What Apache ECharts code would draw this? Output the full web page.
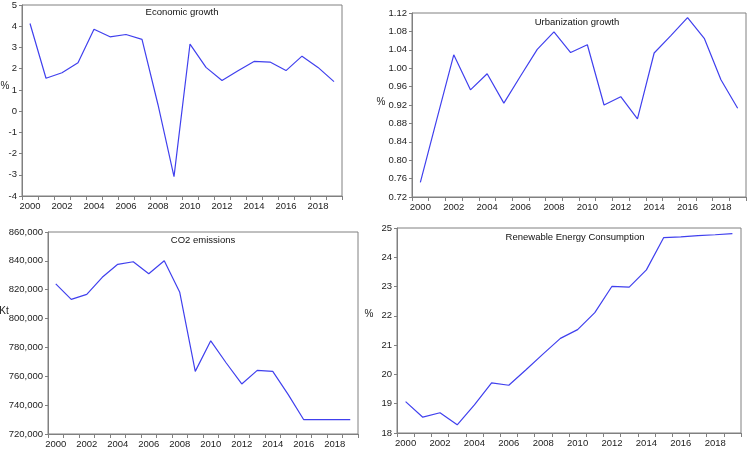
<!DOCTYPE html>
<html>
<head>
<meta charset="utf-8">
<script src="https://cdn.jsdelivr.net/npm/echarts@6/dist/echarts.min.js"></script>
<style>
html,body{margin:0;padding:0;background:#fff;}
#chart{width:748px;height:450px;}
</style>
</head>
<body>
<div id="chart"></div>
<script>
var years = ['2000','2001','2002','2003','2004','2005','2006','2007','2008','2009','2010','2011','2012','2013','2014','2015','2016','2017','2018','2019'];
var econGrowth = [4.13,1.55,1.81,2.28,3.86,3.50,3.61,3.38,0.30,-3.09,3.16,2.06,1.44,1.90,2.34,2.31,1.91,2.59,2.06,1.39];
var urbanGrowth = [0.752,0.891,1.029,0.953,0.988,0.924,0.983,1.041,1.079,1.034,1.051,0.920,0.938,0.890,1.033,1.071,1.110,1.065,0.975,0.913];
var co2Emissions = [824000,813300,816800,828600,837600,839400,831100,840100,818200,763400,784600,769200,754700,764100,763400,747300,729900,729900,729900,729900];
var renewableEnergy = [19.07,18.54,18.69,18.28,18.96,19.71,19.63,20.16,20.70,21.23,21.53,22.11,23.01,22.98,23.57,24.67,24.70,24.74,24.77,24.81];
var panelTitles = ['Economic growth','Urbanization growth','CO2 emissions','Renewable Energy Consumption'];
var yNames = ['%','%','Kt','%'];

var FONT = '"Liberation Sans", Arial, sans-serif';
var LABEL_FS = 9.5;
var AXIS_COLOR = '#808080';
var LINE_COLOR = '#4040ee';

var grids = [
  {left:22, top:4, width:320, height:192},
  {left:412, top:13, width:334, height:184},
  {left:48, top:232, width:310, height:202},
  {left:397, top:228, width:344, height:205}
];
var yCfg = [
  {min:-4, max:5, interval:1, fmt:function(v){return String(v);}},
  {min:0.72, max:1.12, interval:0.04, fmt:function(v){return v.toFixed(2);}},
  {min:720000, max:860000, interval:20000, fmt:function(v){return v.toLocaleString('en-US');}},
  {min:18, max:25, interval:1, fmt:function(v){return String(v);}}
];
var seriesData = [econGrowth, urbanGrowth, co2Emissions, renewableEnergy];

var xAxes = [], yAxes = [], series = [];
for (var i = 0; i < 4; i++) {
  grids[i].show = true;
  grids[i].borderColor = AXIS_COLOR;
  grids[i].borderWidth = 1;
  grids[i].containLabel = false;
  xAxes.push({
    type:'category', gridIndex:i, data:years, boundaryGap:true,
    axisLine:{onZero:false, lineStyle:{color:AXIS_COLOR,width:1}},
    axisTick:{show:true, interval:0, length:4, lineStyle:{color:AXIS_COLOR}},
    axisLabel:{interval:1, color:'#222', fontSize:LABEL_FS, fontFamily:FONT, margin:5},
    splitLine:{show:false}
  });
  yAxes.push({
    type:'value', gridIndex:i, min:yCfg[i].min, max:yCfg[i].max, interval:yCfg[i].interval,
    axisLine:{show:true, onZero:false, lineStyle:{color:AXIS_COLOR,width:1}},
    axisTick:{show:true, length:3, lineStyle:{color:AXIS_COLOR}},
    axisLabel:{color:'#222', fontSize:LABEL_FS, fontFamily:FONT, margin:5, formatter:yCfg[i].fmt},
    splitLine:{show:false}
  });
  series.push({
    type:'line', xAxisIndex:i, yAxisIndex:i, data:seriesData[i],
    showSymbol:false, symbol:'none', animation:false,
    lineStyle:{color:LINE_COLOR, width:1.2}
  });
}

var titlePos = [[182,12],[577,22],[203,240],[575,237]];
var namePos = [[5,86],[381,102],[4,311],[369,314]];
var graphics = [];
for (var j = 0; j < 4; j++) {
  graphics.push({type:'text', x:titlePos[j][0], y:titlePos[j][1], z:10,
    style:{text:panelTitles[j], textAlign:'center', textVerticalAlign:'middle', fill:'#111', font:'9.5px ' + FONT}});
  graphics.push({type:'text', x:namePos[j][0], y:namePos[j][1], z:10,
    style:{text:yNames[j], textAlign:'center', textVerticalAlign:'middle', fill:'#222', font:'10px ' + FONT}});
}

var chart = echarts.init(document.getElementById('chart'), null, {renderer:'canvas'});
chart.setOption({
  animation:false,
  backgroundColor:'#fff',
  grid:grids,
  xAxis:xAxes,
  yAxis:yAxes,
  series:series,
  graphic:graphics
});
</script>
</body>
</html>
